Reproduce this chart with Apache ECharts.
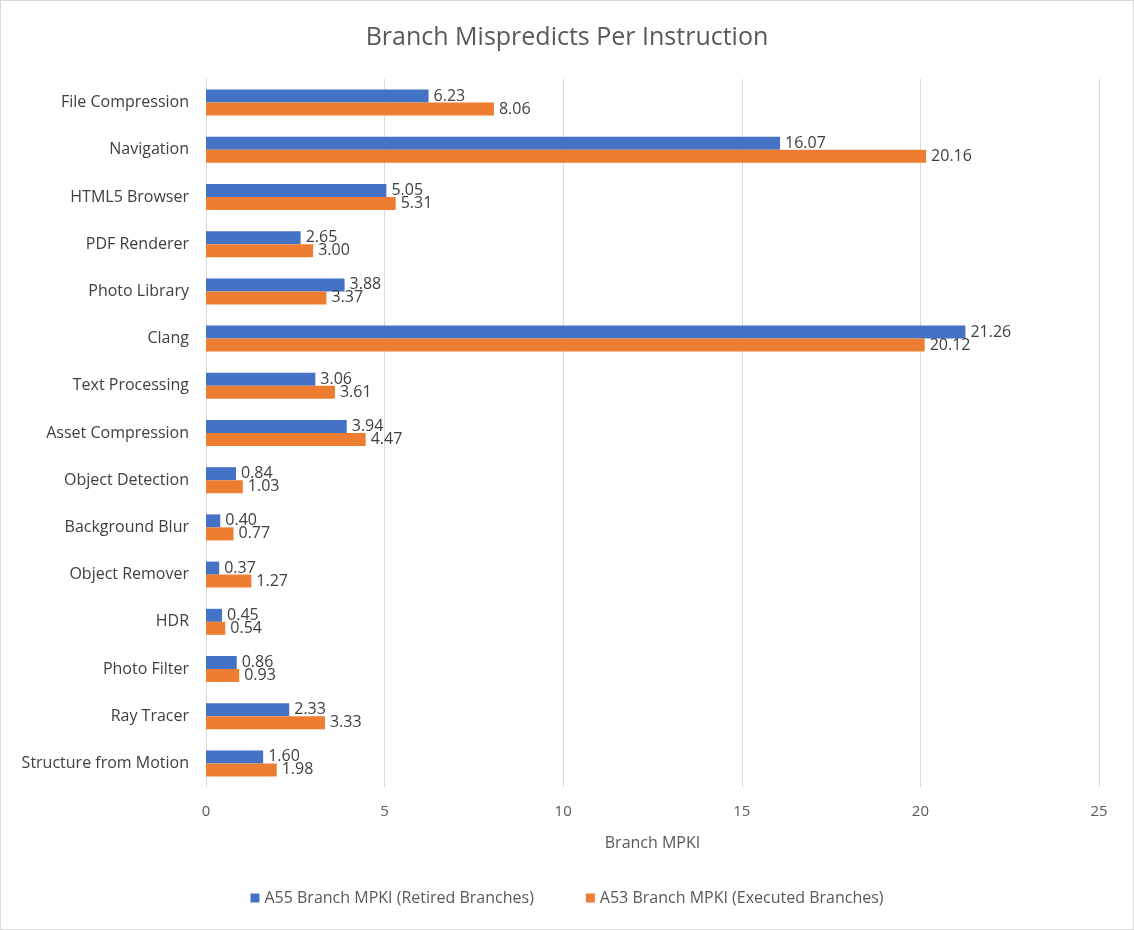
<!DOCTYPE html>
<html lang="en">
<head>
    <meta charset="UTF-8">
    <title>Branch Mispredicts Per Instruction</title>
    <script src="https://cdn.jsdelivr.net/npm/echarts@6/dist/echarts.min.js"></script>
    <style type="text/css">
        html, body { margin: 0; padding: 0; background: #fff; }
        #main { width: 1132px; height: 928px; border: 1px solid #d9d9d9; }
    </style>
</head>
<body>
<div id="main"></div>
<script>
    var categories = ['File Compression', 'Navigation', 'HTML5 Browser', 'PDF Renderer', 'Photo Library',
        'Clang', 'Text Processing', 'Asset Compression', 'Object Detection', 'Background Blur',
        'Object Remover', 'HDR', 'Photo Filter', 'Ray Tracer', 'Structure from Motion'];
    var a55 = [6.23, 16.07, 5.05, 2.65, 3.88, 21.26, 3.06, 3.94, 0.84, 0.40, 0.37, 0.45, 0.86, 2.33, 1.60];
    var a53 = [8.06, 20.16, 5.31, 3.00, 3.37, 20.12, 3.61, 4.47, 1.03, 0.77, 1.27, 0.54, 0.93, 3.33, 1.98];
    var seriesNames = ['A55 Branch MPKI (Retired Branches)', 'A53 Branch MPKI (Executed Branches)'];

    var font = 'Segoe UI, "Open Sans", "Noto Sans", sans-serif';
    var myChart = echarts.init(document.getElementById('main'));

    var labelStyle = {
        show: true,
        position: 'right',
        distance: 5,
        color: '#404040',
        fontSize: 16,
        fontFamily: font,
        formatter: function (p) { return p.value.toFixed(2); }
    };

    var option = {
        animation: false,
        textStyle: { fontFamily: font },
        title: {
            text: 'Branch Mispredicts Per Instruction',
            left: 'center',
            top: 19,
            textStyle: { color: '#595959', fontSize: 25, fontWeight: 'normal', fontFamily: font }
        },
        legend: {
            bottom: 18,
            left: 'center',
            itemWidth: 9,
            itemHeight: 9,
            itemGap: 52,
            icon: 'rect',
            textStyle: { color: '#595959', fontSize: 16, fontFamily: font },
            data: seriesNames
        },
        grid: { left: 205, right: 34, top: 78, bottom: 142, containLabel: false },
        xAxis: {
            type: 'value',
            min: 0,
            max: 25,
            interval: 5,
            name: 'Branch MPKI',
            nameLocation: 'middle',
            nameGap: 48,
            nameTextStyle: { color: '#595959', fontSize: 16, fontFamily: font },
            axisLine: { show: false },
            axisTick: { show: false },
            axisLabel: { color: '#595959', fontSize: 15, margin: 17, fontFamily: font },
            splitLine: { lineStyle: { color: '#d9d9d9' } }
        },
        yAxis: {
            type: 'category',
            inverse: true,
            data: categories,
            axisLine: { show: true, lineStyle: { color: '#d9d9d9' } },
            axisTick: { show: false },
            axisLabel: { color: '#404040', fontSize: 16, margin: 17, fontFamily: font }
        },
        series: [
            {
                name: seriesNames[0],
                type: 'bar',
                data: a55,
                barWidth: 13,
                barGap: '0%',
                itemStyle: { color: '#4472C4' },
                label: labelStyle
            },
            {
                name: seriesNames[1],
                type: 'bar',
                data: a53,
                barWidth: 13,
                barGap: '0%',
                itemStyle: { color: '#ED7D31' },
                label: labelStyle
            }
        ]
    };
    myChart.setOption(option);
</script>
</body>
</html>
